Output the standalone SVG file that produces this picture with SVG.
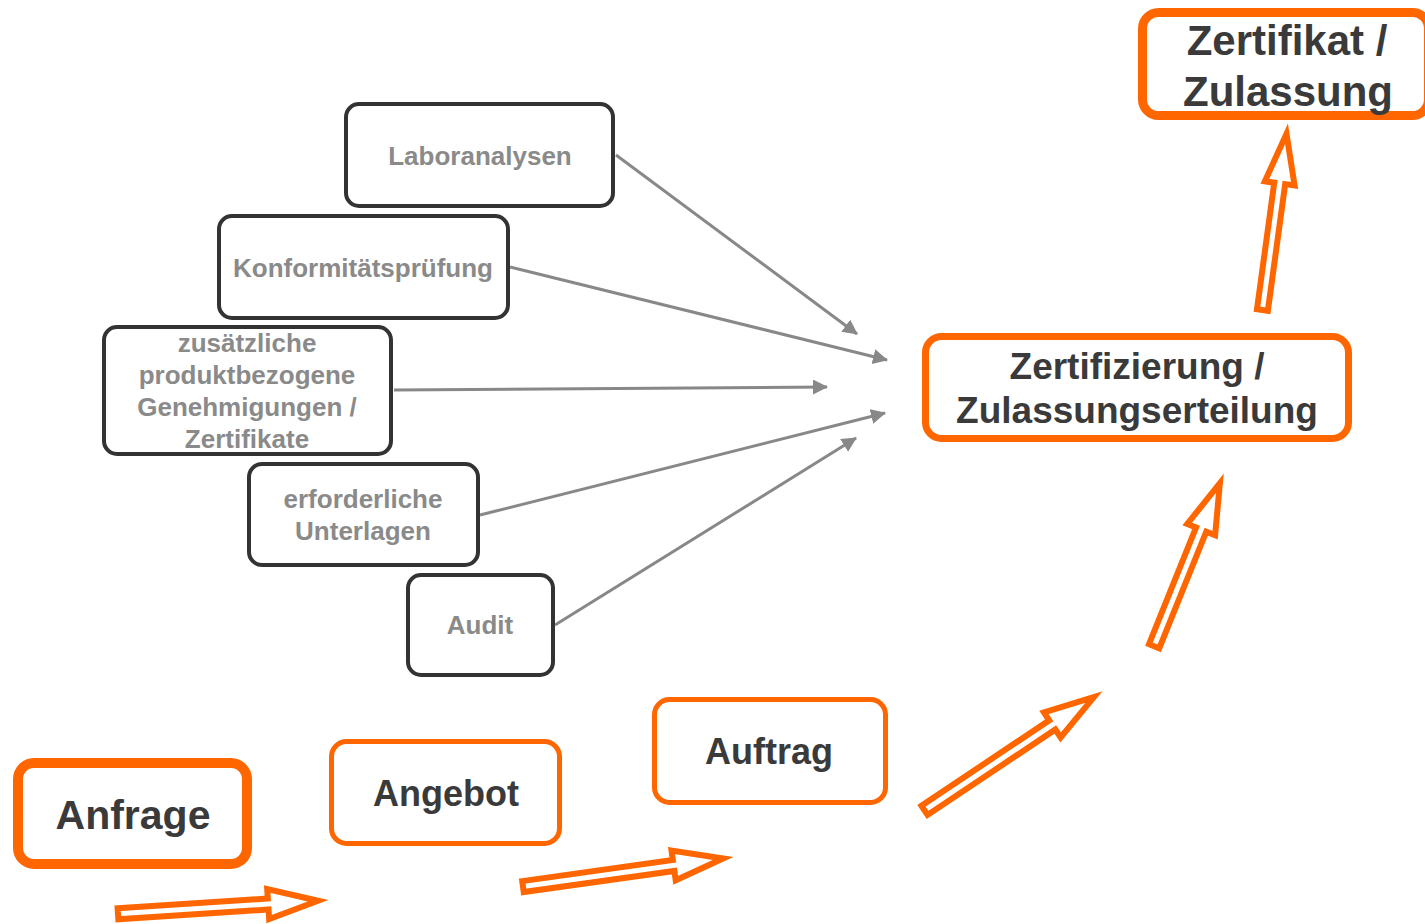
<svg xmlns="http://www.w3.org/2000/svg" width="1425" height="924" viewBox="0 0 1425 924">
<style>
text{font-family:"Liberation Sans",Arial,Helvetica,sans-serif;font-weight:bold;text-anchor:middle}
.g{fill:#8a8a8a;font-size:26px}
.d{fill:#3a3a3a}
.gb{fill:#fff;stroke:#333;stroke-width:4}
.ob{fill:#fff;stroke:#ff6600}
.conn{stroke:#888;stroke-width:3;fill:none}
.ba{fill:#fff;stroke:#ff6600;stroke-width:6;stroke-linejoin:miter;stroke-miterlimit:12}
</style>
<defs>
<marker id="ah" markerUnits="userSpaceOnUse" markerWidth="16" markerHeight="16" refX="14" refY="7.5" orient="auto">
<path d="M0,0 L15,7.5 L0,15 Z" fill="#888"/>
</marker>
</defs>
<g id="connectors">
<line class="conn" x1="616" y1="155" x2="857" y2="334" marker-end="url(#ah)"/>
<line class="conn" x1="510" y1="267" x2="887" y2="360" marker-end="url(#ah)"/>
<line class="conn" x1="394" y1="390" x2="827" y2="387" marker-end="url(#ah)"/>
<line class="conn" x1="480" y1="515" x2="885" y2="413" marker-end="url(#ah)"/>
<line class="conn" x1="555" y1="625" x2="856" y2="438" marker-end="url(#ah)"/>
<path class="ba" transform="translate(115,914) rotate(-3.74)" d="M3,-5.5 H153.5 V-15 L203.5,0 L153.5,15 V5.5 H3 Z"/>
<path class="ba" transform="translate(520,887) rotate(-7.98)" d="M3,-5.5 H155.1 V-15 L205.1,0 L155.1,15 V5.5 H3 Z"/>
<path class="ba" transform="translate(922,812) rotate(-33.76)" d="M3,-5.5 H156.7 V-15 L206.7,0 L156.7,15 V5.5 H3 Z"/>
<path class="ba" transform="translate(1153,649) rotate(-68.03)" d="M3,-5.5 H128.8 V-15 L178.8,0 L128.8,15 V5.5 H3 Z"/>
<path class="ba" transform="translate(1262,313) rotate(-82.21)" d="M3,-5.5 H130.8 V-15 L180.8,0 L130.8,15 V5.5 H3 Z"/>
</g>
<g id="laboranalysen">
<rect class="gb" x="346" y="104" width="267" height="102" rx="13"/>
<text class="g" x="480" y="165">Laboranalysen</text>
</g>
<g id="konformitaetspruefung">
<rect class="gb" x="219" y="216" width="289" height="102" rx="13"/>
<text class="g" x="363" y="277">Konformitätsprüfung</text>
</g>
<g id="zusaetzliche">
<rect class="gb" x="104" y="327" width="287" height="127" rx="13"/>
<text class="g" x="247" y="352">zusätzliche</text>
<text class="g" x="247" y="384">produktbezogene</text>
<text class="g" x="247" y="416">Genehmigungen /</text>
<text class="g" x="247" y="448">Zertifikate</text>
</g>
<g id="erforderliche">
<rect class="gb" x="249" y="464" width="229" height="101" rx="13"/>
<text class="g" x="363" y="508">erforderliche</text>
<text class="g" x="363" y="540">Unterlagen</text>
</g>
<g id="audit">
<rect class="gb" x="408" y="575" width="145" height="100" rx="13"/>
<text class="g" x="480" y="634">Audit</text>
</g>
<g id="anfrage">
<rect class="ob" x="18" y="763" width="229" height="101" rx="16" stroke-width="10"/>
<text class="d" x="133" y="829" font-size="41">Anfrage</text>
</g>
<g id="angebot">
<rect class="ob" x="331.5" y="741.5" width="228" height="102" rx="15" stroke-width="5"/>
<text class="d" x="446" y="806" font-size="36">Angebot</text>
</g>
<g id="auftrag">
<rect class="ob" x="654.5" y="699.5" width="231" height="103" rx="15" stroke-width="5"/>
<text class="d" x="769" y="764" font-size="36">Auftrag</text>
</g>
<g id="zertifizierung">
<rect class="ob" x="925.5" y="336.5" width="423" height="102" rx="16" stroke-width="7"/>
<text class="d" x="1137" y="379" font-size="37">Zertifizierung /</text>
<text class="d" x="1137" y="423" font-size="37">Zulassungserteilung</text>
</g>
<g id="zertifikat">
<rect class="ob" x="1142.5" y="12.5" width="286" height="103" rx="16" stroke-width="9"/>
<text class="d" x="1287" y="55" font-size="42">Zertifikat /</text>
<text class="d" x="1288" y="106" font-size="42">Zulassung</text>
</g>
</svg>
